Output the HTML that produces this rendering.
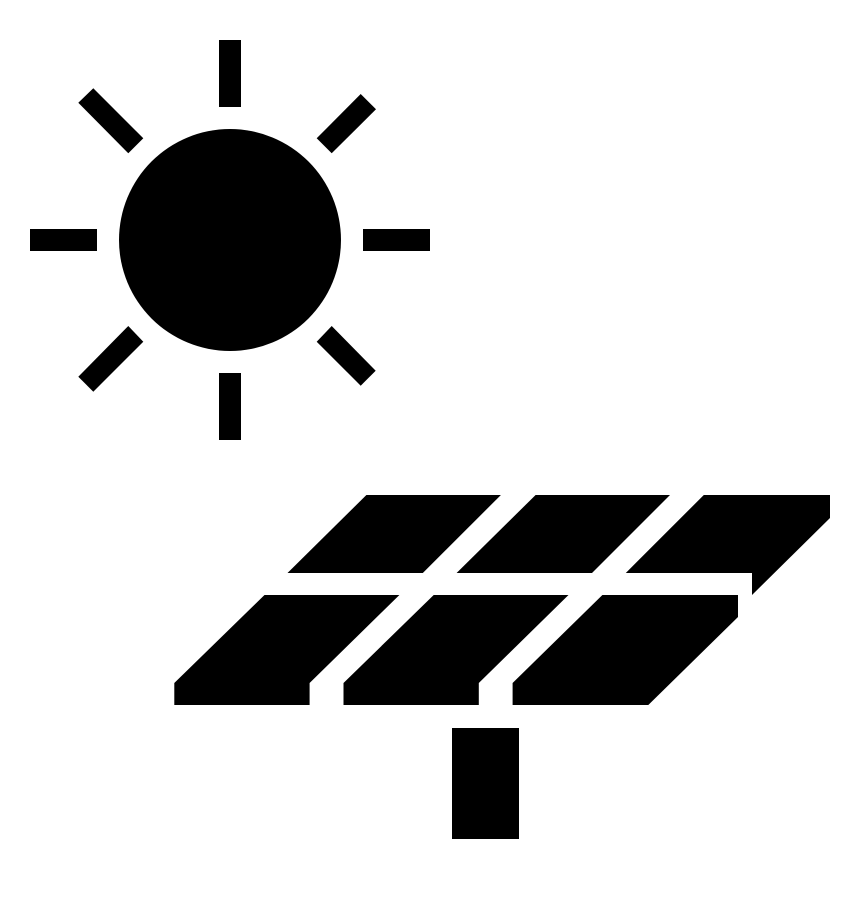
<!DOCTYPE html>
<html><head><meta charset="utf-8"><style>html,body{margin:0;padding:0;background:#fff}svg{display:block}</style></head>
<body>
<svg width="860" height="899" viewBox="0 0 860 899" xmlns="http://www.w3.org/2000/svg">
<rect width="860" height="899" fill="#fff"/>
<g fill="#000">
<circle cx="230" cy="240" r="111"/>
<rect x="219" y="40" width="22" height="67"/>
<rect x="219" y="373" width="22" height="67"/>
<rect x="30" y="229" width="67" height="22"/>
<rect x="363" y="229" width="67" height="22"/>
<polygon points="78.3,102.7 93.3,88.3 143.3,138.3 128.3,153.3"/>
<polygon points="360.7,94 376,109.3 331.7,153.3 316.7,138.3"/>
<polygon points="128.3,326 143.3,341.7 93.3,391.7 78.3,376.7"/>
<polygon points="331.7,326 316.7,341.7 360.7,385.7 375.7,370.7"/>
<polygon points="366.4,495 500.9,495 422.8,573 287.5,573"/>
<polygon points="535.6,495 670,495 592,573 456.6,573"/>
<polygon points="703.8,495 830,495 830,518 752,595 752,573 625.8,573"/>
<polygon points="264.5,595 399.4,595 309.6,683 309.6,705 174.3,705 174.3,683"/>
<polygon points="433.7,595 568.5,595 478.8,683 478.8,705 343.5,705 343.5,683"/>
<polygon points="602.4,595 738,595 738,617 648.3,705 512.6,705 512.6,683"/>
<rect x="452" y="728" width="67" height="111"/>
</g>
</svg>
</body></html>
